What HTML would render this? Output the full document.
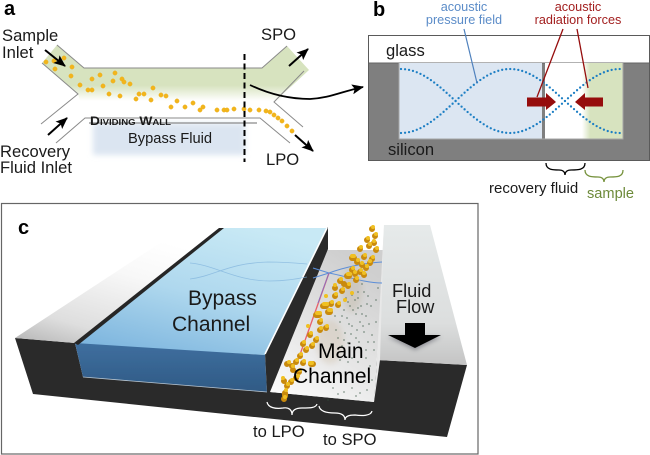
<!DOCTYPE html>
<html>
<head>
<meta charset="utf-8">
<style>
html,body{margin:0;padding:0;background:#fff;width:650px;height:455px;overflow:hidden}
svg{display:block}
text{font-family:"Liberation Sans",sans-serif;fill:#1a1a1a}
.l{font-size:16.600px}
.b{font-weight:bold;fill:#000}
</style>
</head>
<body>
<svg width="650" height="455" viewBox="0 0 650 455" xmlns="http://www.w3.org/2000/svg">
<defs>
<filter id="s1" x="-20%" y="-20%" width="140%" height="140%"><feGaussianBlur stdDeviation="0.35"/></filter>
<filter id="s3" x="-20%" y="-40%" width="140%" height="180%"><feGaussianBlur stdDeviation="3"/></filter>
<filter id="s2" x="-30%" y="-30%" width="160%" height="160%"><feGaussianBlur stdDeviation="2"/></filter>
<linearGradient id="gg" x1="0" y1="0" x2="0" y2="1"><stop offset="0" stop-color="#d7e3bf"/><stop offset=".72" stop-color="#d7e3bf"/><stop offset="1" stop-color="#fff"/></linearGradient>
<linearGradient id="gs" x1="0" y1="0" x2="1" y2="0"><stop offset="0" stop-color="#fff"/><stop offset=".2" stop-color="#d7e3bf"/><stop offset="1" stop-color="#d7e3bf"/></linearGradient>
<linearGradient id="top1" x1="0" y1="1" x2=".5" y2="0"><stop offset="0" stop-color="#b4b4b4"/><stop offset=".25" stop-color="#dedede"/><stop offset=".7" stop-color="#f8f8f8"/><stop offset="1" stop-color="#fff"/></linearGradient>
<linearGradient id="wat" x1=".2" y1="1" x2=".7" y2="0"><stop offset="0" stop-color="#7db5de"/><stop offset=".5" stop-color="#afd8ee"/><stop offset="1" stop-color="#c8e9f5"/></linearGradient>
<linearGradient id="wf" x1="0" y1="0" x2="0" y2="1"><stop offset="0" stop-color="#3f6f9f"/><stop offset="1" stop-color="#2f5a85"/></linearGradient>
<linearGradient id="fl" x1=".1" y1="1" x2=".6" y2="0"><stop offset="0" stop-color="#fcfcfc"/><stop offset=".45" stop-color="#e6e6e6"/><stop offset="1" stop-color="#cfcfcf"/></linearGradient>
<linearGradient id="top2" x1=".5" y1="0" x2=".5" y2="1"><stop offset="0" stop-color="#e6eaea"/><stop offset=".7" stop-color="#dcdede"/><stop offset="1" stop-color="#c4c4c4"/></linearGradient>
<marker id="ah" markerWidth="14" markerHeight="12" refX="11" refY="5" orient="auto" markerUnits="userSpaceOnUse"><path d="M0,0L12,5L0,10L2.500,5Z" fill="#000"/></marker>
</defs>

<!-- panel a -->
<g filter="url(#s1)">
<path d="M57,45L84,68H262L287,46L309,70L283,94L280,101H80L78,94L42,63Z" fill="url(#gg)"/>
<rect x="93" y="123" width="152" height="32" fill="#dbe5f1" filter="url(#s3)"/>
<g fill="none" stroke="#8a8a8a" stroke-width="1">
<path d="M57,45L84,68H262L287,46"/>
<path d="M42,63L78,94L41,124"/>
<path d="M304,71L274,102L303,127"/>
<path d="M56,143L85,118H260L290,143"/>
<path d="M89,123H257" stroke-width="1.200"/>
</g>
<g fill="#f2b51d" stroke="#e8a810" stroke-width=".3">
<circle cx="46" cy="62" r="2.200"/><circle cx="54" cy="61" r="2.200"/><circle cx="64" cy="58" r="2.200"/><circle cx="72" cy="67" r="2.200"/><circle cx="55" cy="69" r="2.200"/><circle cx="71" cy="76" r="2.200"/><circle cx="80" cy="85" r="2.200"/><circle cx="92" cy="79" r="2.200"/><circle cx="88" cy="90" r="2.200"/><circle cx="92" cy="90" r="2.200"/><circle cx="100" cy="75" r="2.200"/><circle cx="115" cy="73" r="2.200"/><circle cx="113" cy="81" r="2.200"/><circle cx="103" cy="86" r="2.200"/><circle cx="122" cy="79" r="2.200"/><circle cx="124" cy="82" r="2.200"/><circle cx="130" cy="84" r="2.200"/><circle cx="109" cy="94" r="2.200"/><circle cx="120" cy="96" r="2.200"/><circle cx="139" cy="94" r="2.200"/><circle cx="144" cy="94" r="2.200"/><circle cx="136" cy="99" r="2.200"/><circle cx="153" cy="88" r="2.200"/><circle cx="161" cy="95" r="2.200"/><circle cx="166" cy="96" r="2.200"/><circle cx="151" cy="100" r="2.200"/><circle cx="177" cy="101" r="2.200"/><circle cx="171" cy="107" r="2.200"/><circle cx="185" cy="107" r="2.200"/><circle cx="193" cy="103" r="2.200"/><circle cx="203" cy="107" r="2.200"/><circle cx="200" cy="110" r="2.200"/><circle cx="217" cy="110" r="2.200"/><circle cx="224" cy="110" r="2.200"/><circle cx="227" cy="110" r="2.200"/><circle cx="234" cy="109" r="2.200"/><circle cx="244" cy="109" r="2.200"/><circle cx="250" cy="110" r="2.200"/><circle cx="259" cy="110" r="2.200"/><circle cx="266" cy="111" r="2.200"/><circle cx="270" cy="112" r="2.200"/><circle cx="274" cy="115" r="2.200"/><circle cx="278" cy="118" r="2.200"/><circle cx="282" cy="121" r="2.200"/><circle cx="287" cy="126" r="2.200"/><circle cx="292" cy="131" r="2.200"/>
</g>
<path d="M244.500,54V162" stroke="#000" stroke-width="2" stroke-dasharray="6 3.500" fill="none"/>
<g stroke="#000" stroke-width="2" fill="none" marker-end="url(#ah)">
<path d="M45,50L65,66"/>
<path d="M289,66L308,49"/>
<path d="M48,135L67,118"/>
<path d="M295,135L313,151"/>
</g>
<path d="M250,85C275,97 295,99 310,99C330,98 340,92 363,87" stroke="#000" stroke-width="1.800" fill="none" marker-end="url(#ah)"/>
</g>
<text x="4" y="15" class="b" style="font-size:20px">a</text>
<text x="2" y="41" class="l">Sample</text>
<text x="2" y="58" class="l">Inlet</text>
<text x="0" y="157" class="l">Recovery</text>
<text x="0" y="173" class="l">Fluid Inlet</text>
<text x="261" y="40" class="l">SPO</text>
<text x="266" y="165" class="l">LPO</text>
<text x="90" y="125" style="font-size:11.500px;font-weight:bold;font-variant:small-caps" textLength="81" lengthAdjust="spacingAndGlyphs">Dividing Wall</text>
<text x="128" y="143" style="font-size:14.700px">Bypass Fluid</text>

<!-- panel b -->
<g filter="url(#s1)">
<rect x="368.500" y="35.500" width="281" height="125" fill="#fff" stroke="#5a5a5a" stroke-width="1"/>
<rect x="369" y="63" width="280" height="97" fill="#7f7f7f"/>
<rect x="369" y="62.500" width="280" height="1" fill="#666"/>
<rect x="399" y="63" width="143" height="76" fill="#dce6f2"/>
<rect x="545" y="63" width="39" height="76" fill="#fff"/>
<rect x="582" y="63" width="41" height="76" fill="url(#gs)"/>
<path d="M399,63V139H623V63" fill="none" stroke="#a5a5a5" stroke-width="1"/>
<g fill="none" stroke="#1f7fc4" stroke-width="2.300" stroke-linecap="round" stroke-dasharray="0 4.050">
<path d="M401,69C441,69 470,133 510,133S580,69 620,69"/>
<path d="M401,133C441,133 470,69 510,69S580,133 620,133"/>
</g>
<path d="M464,29L477,83" stroke="#4f81bd" stroke-width="1.200" fill="none"/>
<path d="M563,29L537,97M577,29L588,88" stroke="#960f0f" stroke-width="1.300" fill="none"/>
<path d="M527,97.500H546V93L556,102L546,110V106.500H527Z" fill="#960f0f"/>
<path d="M603,97.500H585V93L575,102L585,110V106.500H603Z" fill="#960f0f"/>
<path d="M546,163C546,170 553,170 559,170C563,170 565,172 565,175C565,172 567,170 571,170C578,170 585,170 585,163" fill="none" stroke="#000" stroke-width="1.300"/>
<path d="M585,170C585,177 592,177 598,177C602,177 604,179 604,182C604,179 606,177 610,177C617,177 623,177 623,170" fill="none" stroke="#76923c" stroke-width="1.300"/>
</g>
<text x="373" y="16" class="b" style="font-size:20px">b</text>
<text x="464" y="11" text-anchor="middle" style="font-size:12.700px;fill:#5b8cc8">acoustic</text>
<text x="464" y="24" text-anchor="middle" style="font-size:12.700px;fill:#5b8cc8">pressure field</text>
<text x="578" y="11" text-anchor="middle" style="font-size:12.700px;fill:#a32020">acoustic</text>
<text x="578" y="24" text-anchor="middle" style="font-size:12.700px;fill:#a32020">radiation forces</text>
<text x="386" y="56" class="l">glass</text>
<text x="388" y="155" class="l">silicon</text>
<text x="489" y="193" style="font-size:15px">recovery fluid</text>
<text x="587" y="198" style="font-size:14.600px;fill:#6d8a3a">sample</text>

<!-- panel c -->
<rect x="1.500" y="203.500" width="476.500" height="250.500" fill="#fff" stroke="#666" stroke-width="1.200"/>
<g filter="url(#s1)">
<path d="M15,338L33,394L447,437L467,365L377,360L374,402L270,392L267,392L83,377L75,343Z" fill="#2b2b2b"/>
<path d="M15,338L183,228H220L75,343Z" fill="url(#top1)"/>
<path d="M327,250H384L374,402L270,392Z" fill="url(#fl)"/>
<path d="M75,345L265,355L327,228H222Z" fill="url(#wat)"/>
<path d="M75,343L265,355L267,392L83,377Z" fill="url(#wf)"/>
<path d="M83,377L267,392" stroke="#b8c6d2" stroke-width=".8" fill="none"/>
<path d="M74,343L219,228L224,228L78,345Z" fill="#262626"/>
<path d="M265,354L328,227V249L270,392L267,392Z" fill="#2b2b2b"/>
<path d="M265,354L327,228" stroke="#fff" stroke-width="1.600" fill="none"/>
<path d="M384,225H430L467,365L377,360Z" fill="url(#top2)"/>
<path d="M384,225L377,360L374,402L380,360Z" fill="#e8e8e8"/>
<g fill="none" stroke="#7fb2dc" stroke-width=".8" opacity=".7">
<path d="M190,279C215,276 228,263 268,262C285,262 296,263 307,264"/>
<path d="M190,263C215,265 235,281 270,281C285,281 296,279 307,277"/>
</g>
<g fill="none" stroke="#5b8ed8" stroke-width="1">
<path d="M313,268L329,273C345,276 365,283 382,283"/>
<path d="M313,278L329,273C345,267 365,263 382,262"/>
</g>
<path d="M329,273L297,363" stroke="#e8606a" stroke-width="1.300" fill="none"/>
<path d="M329,273L318,303" stroke="#8a70c0" stroke-width="1" fill="none"/>
<ellipse cx="330" cy="342" rx="14" ry="22" fill="#c9b59a" opacity=".3" filter="url(#s3)"/>
<ellipse cx="352" cy="290" rx="10" ry="22" fill="#b9aa90" opacity=".3" filter="url(#s3)"/>
<!-- scattered fine particles -->
<path stroke="#2f4f3a" stroke-width="1.300" stroke-linecap="round" fill="none" d="M338,303h.01M344,310h.01M350,306h.01M355,300h.01M347,318h.01M340,322h.01M356,314h.01M361,306h.01M352,326h.01M345,333h.01M336,330h.01M360,322h.01M366,316h.01M364,332h.01M356,338h.01M348,343h.01M342,346h.01M368,342h.01M372,335h.01M361,348h.01M354,352h.01M374,350h.01M366,358h.01M338,338h.01M331,344h.01M358,292h.01M352,295h.01M346,298h.01M362,284h.01M368,296h.01M371,306h.01M376,322h.01M340,360h.01M348,362h.01M358,362h.01M370,366h.01M344,392h.01M338,394h.01M352,388h.01M360,393h.01M367,390h.01M356,396h.01M333,388h.01M328,400h.01M372,380h.01M328,356h.01M335,316h.01M327,330h.01M376,300h.01M378,288h.01M350,278h.01M356,272h.01M348,302h.01M353,310h.01M358,298h.01M364,292h.01M342,316h.01M349,324h.01M357,330h.01M363,326h.01M369,324h.01M351,334h.01M344,340h.01M359,342h.01M366,350h.01M352,358h.01M345,352h.01M358,308h.01M367,304h.01M362,314h.01M374,342h.01"/>
<!-- gold particles -->
<g fill="none" stroke-linecap="round">
<path stroke="#c98a10" stroke-width="6" d="M284,399h.01M285,393v3M287,386h.01M284,381h.01M291,382h.01M293,370h.01M296,378h.01M299,372h.01M292,366h.01M287,364h.01M296,362h.01M303,363h.01M311,364h2M300,356h.01M306,350h.01M312,346h.01M303,344h.01M316,340h.01M310,335h.01M320,330h.01M326,328h.01M320,322h.01M316,315h3M328,312h2M323,306h3M331,304h.01M338,305h.01M335,296h.01M342,291h.01M348,286h.01M340,281h.01M347,276h2M356,280h.01M352,270h.01M360,272h.01M366,268h.01M357,262h.01M364,257h.01M372,259h.01M360,249h.01M369,246h.01M376,250h.01M367,240h.01M375,236h.01M372,229h.01M352,258h2M344,284h.01M335,288h.01M374,243h.01M362,265h.01M370,263h.01M355,274h.01M364,275h.01"/>
<path stroke="#f0c020" stroke-width="4" d="M285,397h.01M286,390h.01M288,384h.01M283,378h.01M292,380h.01M298,376h.01M300,370h.01M293,366h.01M289,362h.01M297,360h.01M304,361h.01M310,363h2M301,354h.01M307,348h.01M313,344h.01M304,342h.01M317,338h.01M311,333h.01M321,328h.01M327,326h.01M321,320h.01M317,313h3M329,310h2M324,304h3M332,302h.01M339,303h.01M336,294h.01M343,289h.01M349,284h.01M341,279h.01M348,274h2M357,278h.01M353,268h.01M361,270h.01M367,266h.01M358,260h.01M365,255h.01M373,257h.01M361,247h.01M370,244h.01M377,248h.01M368,238h.01M376,234h.01M373,227h.01M335,285h.01M326,296h.01M308,326h.01M345,300h.01M352,293h.01M352,256h2M374,241h.01M362,263h.01M370,261h.01M355,272h.01M364,273h.01"/>
</g>
<path d="M267,402C268,408 276,409 283,408C289,407 292,410 292,415C292,410 296,408 302,408C310,408 316,408 317,404" fill="none" stroke="#fff" stroke-width="1.200"/>
<path d="M319,406C320,412 328,413 335,413C341,413 345,415 345,420C345,416 349,415 355,415C362,416 371,416 372,411" fill="none" stroke="#fff" stroke-width="1.200"/>
<path d="M388,337L441,337L415,350Z" fill="#6f6f78" filter="url(#s2)" opacity=".7"/>
<path d="M405,323H425V335H441L415,348L388,335H405Z" fill="#000"/>
</g>
<text x="18" y="234" class="b" style="font-size:20px">c</text>
<text x="188" y="305" style="font-size:21px">Bypass</text>
<text x="172" y="331" style="font-size:21px">Channel</text>
<text x="318" y="358" style="font-size:21px;fill:#000">Main</text>
<text x="293" y="383" style="font-size:21px;fill:#000">Channel</text>
<text x="392" y="297" style="font-size:18.200px">Fluid</text>
<text x="396" y="313" style="font-size:18.200px">Flow</text>
<text x="253" y="437" style="font-size:16.600px">to LPO</text>
<text x="323" y="445" style="font-size:16.600px">to SPO</text>
</svg>
</body>
</html>
